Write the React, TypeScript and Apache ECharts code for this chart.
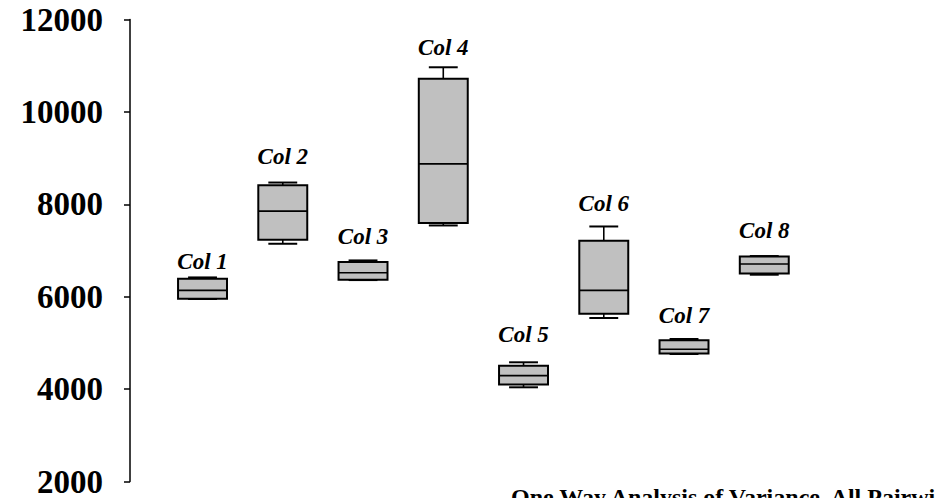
import React, { useEffect, useRef } from "react";
import * as echarts from "echarts";

const categories = ["Col 1", "Col 2", "Col 3", "Col 4", "Col 5", "Col 6", "Col 7", "Col 8"];
const minValues = [5950, 7146, 6360, 7542, 4039, 5539, 4760, 6476];
const q1Values = [5957, 7232, 6368, 7594, 4097, 5632, 4768, 6504];
const medianValues = [6136, 7853, 6519, 8876, 4292, 6136, 4861, 6707];
const q3Values = [6389, 8415, 6750, 10720, 4508, 7211, 5055, 6871];
const maxValues = [6417, 8471, 6785, 10966, 4580, 7520, 5085, 6880];
const labelValues = [6512, 8789, 7053, 11140, 4925, 7773, 5351, 7174];
const yTicks = [2000, 4000, 6000, 8000, 10000, 12000];
const footnote = "One Way Analysis of Variance, All Pairwise Multiple Comparison Procedures";

export default function App() {
  const ref = useRef<HTMLDivElement>(null);
  useEffect(() => {
    if (!ref.current) return;
    const chart = echarts.init(ref.current, null, { renderer: "svg" });
    const data = categories.map((c, i) => [
      i,
      minValues[i],
      q1Values[i],
      medianValues[i],
      q3Values[i],
      maxValues[i],
      labelValues[i],
    ]);
    const font = '"Liberation Serif", "Times New Roman", serif';
    chart.setOption({
      animation: false,
      backgroundColor: "#ffffff",
      grid: { left: 162.4, right: 130.6, top: 19.5, bottom: 16 },
      xAxis: {
        type: "category",
        data: categories,
        show: false,
        boundaryGap: true,
      },
      yAxis: {
        type: "value",
        min: yTicks[0],
        max: yTicks[yTicks.length - 1],
        interval: 2000,
        offset: 32.4,
        splitLine: { show: false },
        axisLine: { show: true, lineStyle: { color: "#000", width: 1.5 } },
        axisTick: { show: true, inside: false, length: 6, lineStyle: { color: "#000", width: 1.5 } },
        axisLabel: {
          margin: 27,
          color: "#000",
          fontFamily: font,
          fontWeight: "bold",
          fontSize: 33,
          formatter: (v: number) => String(v),
        },
      },
      series: [
        {
          type: "custom",
          data,
          encode: { x: 0, y: [1, 2, 3, 4, 5] },
          renderItem: (params: any, api: any) => {
            const idx = api.value(0);
            const band = api.size([1, 0])[0];
            const bw = band * 0.61;
            const cw = band * 0.36;
            const pMin = api.coord([idx, api.value(1)]);
            const pQ1 = api.coord([idx, api.value(2)]);
            const pMed = api.coord([idx, api.value(3)]);
            const pQ3 = api.coord([idx, api.value(4)]);
            const pMax = api.coord([idx, api.value(5)]);
            const pLab = api.coord([idx, api.value(6)]);
            const cx = pMed[0];
            const lineStyle = { stroke: "#000", lineWidth: 1.6 };
            return {
              type: "group",
              children: [
                { type: "line", shape: { x1: cx, y1: pQ3[1], x2: cx, y2: pMax[1] }, style: lineStyle },
                { type: "line", shape: { x1: cx, y1: pQ1[1], x2: cx, y2: pMin[1] }, style: lineStyle },
                { type: "line", shape: { x1: cx - cw / 2, y1: pMax[1], x2: cx + cw / 2, y2: pMax[1] }, style: { stroke: "#000", lineWidth: 2 } },
                { type: "line", shape: { x1: cx - cw / 2, y1: pMin[1], x2: cx + cw / 2, y2: pMin[1] }, style: { stroke: "#000", lineWidth: 2 } },
                {
                  type: "rect",
                  shape: { x: cx - bw / 2, y: pQ3[1], width: bw, height: pQ1[1] - pQ3[1] },
                  style: { fill: "#c0c0c0", stroke: "#000", lineWidth: 2 },
                },
                { type: "line", shape: { x1: cx - bw / 2, y1: pMed[1], x2: cx + bw / 2, y2: pMed[1] }, style: lineStyle },
                {
                  type: "text",
                  x: cx,
                  y: pLab[1],
                  style: {
                    text: categories[idx],
                    align: "center",
                    verticalAlign: "bottom",
                    fill: "#000",
                    font: `italic bold 23px ${font}`,
                  },
                },
              ],
            };
          },
        },
      ],
      graphic: [
        {
          type: "text",
          left: 511,
          top: 485,
          style: {
            text: footnote,
            fill: "#000",
            font: `bold 24px ${font}`,
          },
        },
      ],
    });
    return () => chart.dispose();
  }, []);
  return (
    <div
      ref={ref}
      style={{ position: "fixed", left: 0, top: 0, width: 935, height: 498 }}
    />
  );
}
